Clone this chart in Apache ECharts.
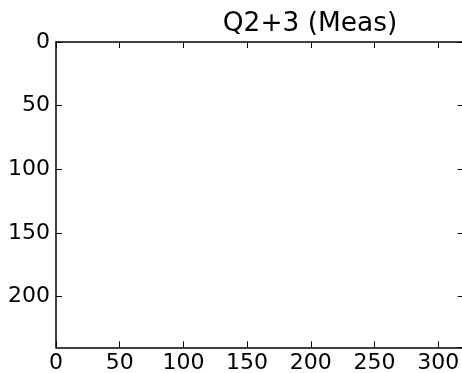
<!DOCTYPE html>
<html>
<head>
<meta charset="utf-8">
<script src="https://cdn.jsdelivr.net/npm/echarts@6/dist/echarts.min.js"></script>
<style>
  html, body { margin: 0; padding: 0; background: #fff; overflow: hidden; }
  #chart { width: 470px; height: 373px; }
</style>
</head>
<body>
<div id="chart"></div>
<script>
// Image extent (pixel columns / rows) of the measurement frame
const xRange = [0, 320];
const yRange = [0, 240];
// Tick spacing on both axes
const tickStep = 50;
// Measured values (frame is empty)
const seriesValues = [];
const chartTitle = 'Q2+3 (Meas)';

const FONT = 'DejaVu Sans';
const chart = echarts.init(document.getElementById('chart'), null, { renderer: 'canvas' });

const lineStyle = { color: '#000', width: 1.5 };
const tickStyle = { show: true, inside: true, length: 6, lineStyle: { color: '#000', width: 1 } };

function xAxis(pos, labels) {
  return {
    type: 'value', position: pos, min: xRange[0], max: xRange[1], interval: tickStep,
    axisLine: { show: true, onZero: false, lineStyle },
    axisTick: tickStyle,
    splitLine: { show: false },
    axisLabel: labels ? { show: true, color: '#000', fontFamily: FONT, fontSize: 22, margin: 5,
      showMaxLabel: false } : { show: false }
  };
}
function yAxis(pos, labels) {
  return {
    type: 'value', position: pos, inverse: true, min: yRange[0], max: yRange[1], interval: tickStep,
    axisLine: { show: true, onZero: false, lineStyle },
    axisTick: tickStyle,
    splitLine: { show: false },
    axisLabel: labels ? { show: true, color: '#000', fontFamily: FONT, fontSize: 22, margin: 6,
      showMaxLabel: false } : { show: false }
  };
}

chart.setOption({
  animation: false,
  backgroundColor: '#fff',
  grid: { left: 56, top: 42, width: 407.7, height: 305.3, containLabel: false, outerBoundsMode: 'none' },
  xAxis: [xAxis('bottom', true), xAxis('top', false)],
  yAxis: [yAxis('left', true), yAxis('right', false)],
  graphic: [{
    type: 'text', x: 310, y: 24,
    style: { text: chartTitle, font: '26.4px "' + FONT + '"', fill: '#000',
      align: 'center', verticalAlign: 'middle' }
  }],
  series: [{ type: 'scatter', xAxisIndex: 0, yAxisIndex: 0, data: seriesValues }]
});
</script>
</body>
</html>
